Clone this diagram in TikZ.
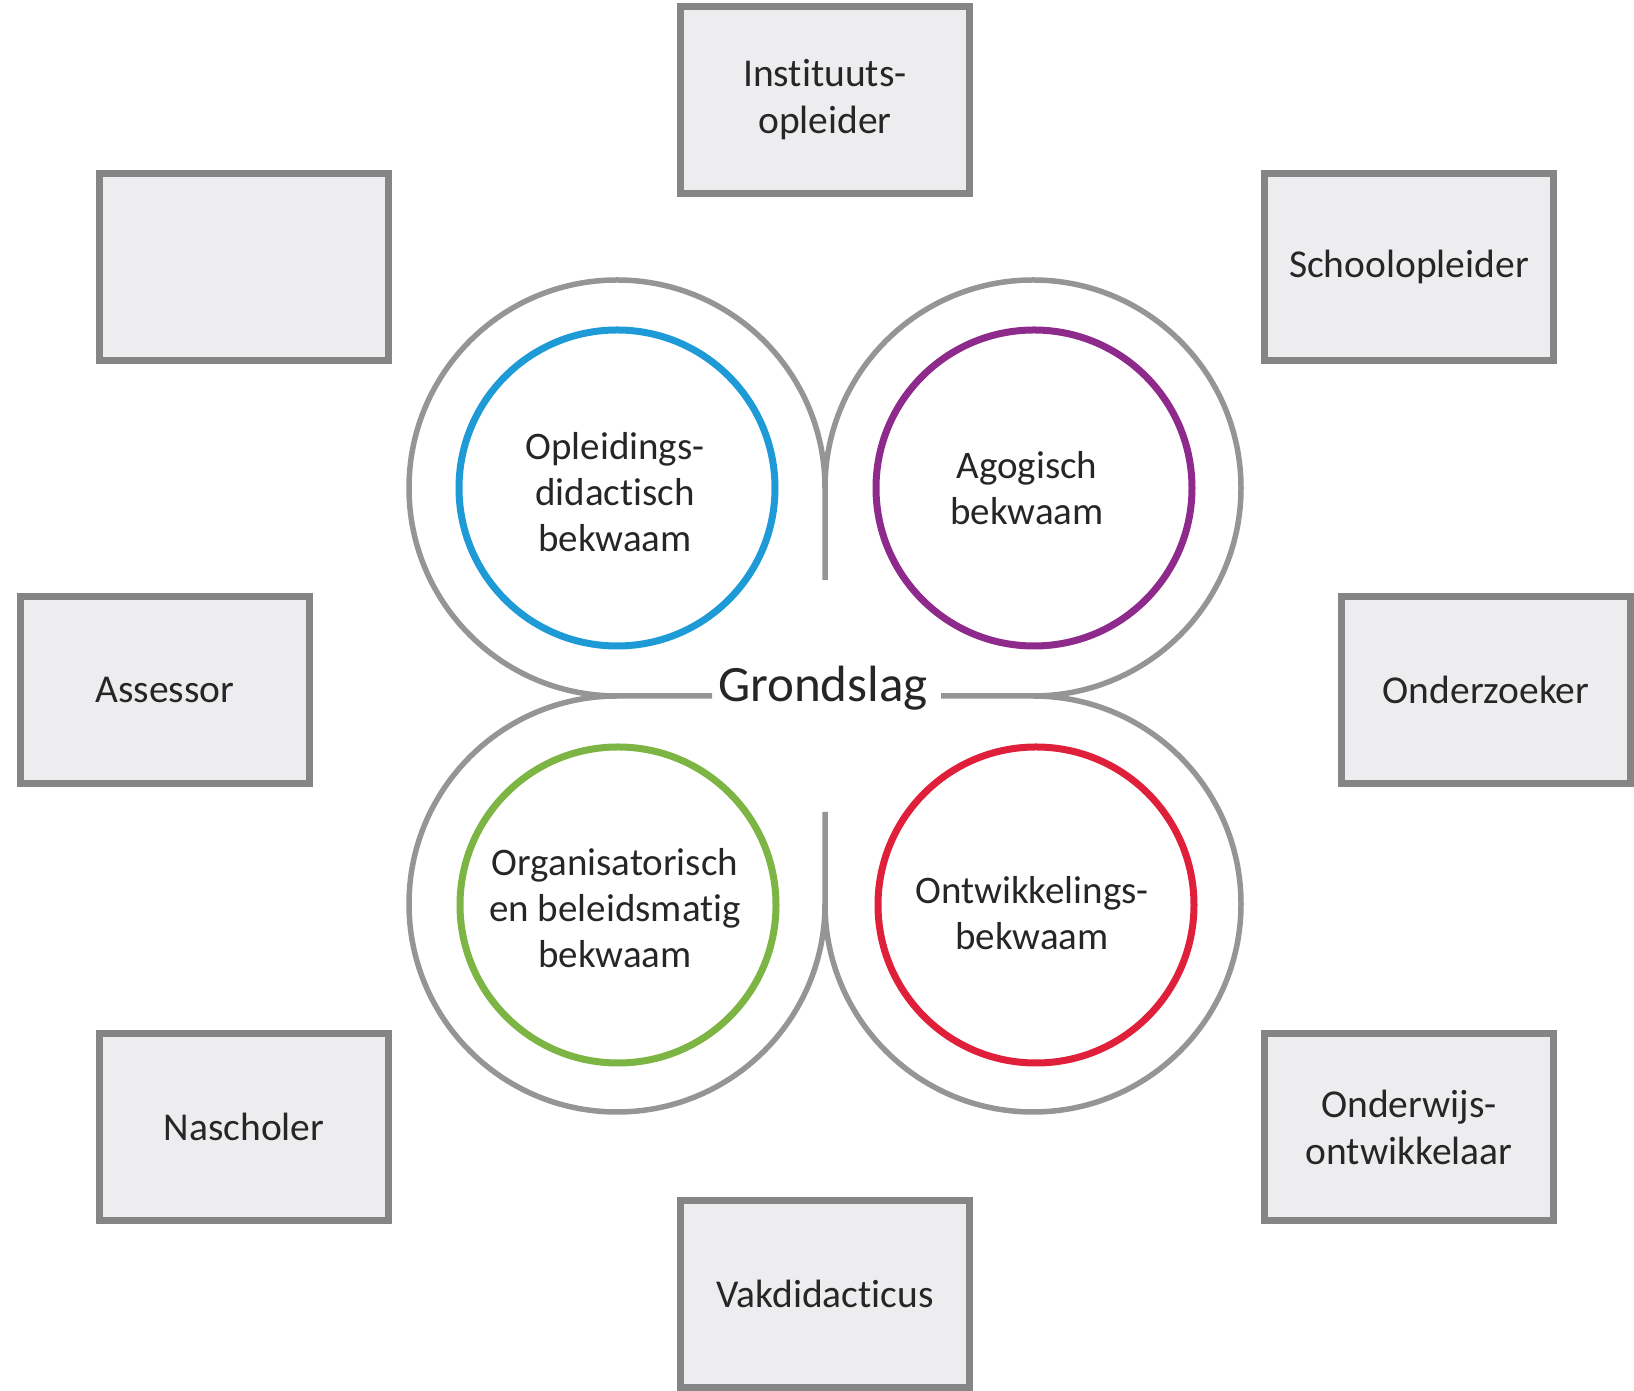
\documentclass[tikz,border=0pt]{standalone}
\usepackage{fontspec}
\setmainfont{Carlito}[Ligatures=NoCommon]
\definecolor{boxfill}{HTML}{EDEDEF}
\definecolor{boxline}{HTML}{858585}
\definecolor{ringgray}{HTML}{959595}
\definecolor{cblue}{HTML}{1E9BD7}
\definecolor{cpurple}{HTML}{8E2A8C}
\definecolor{cgreen}{HTML}{7DB544}
\definecolor{cred}{HTML}{E0203A}
\definecolor{txt}{HTML}{262626}
\begin{document}
\begin{tikzpicture}[x=1pt,y=1pt,
  rolebox/.style={draw=boxline, fill=boxfill, line width=7pt, minimum width=289pt, minimum height=187pt, inner sep=0pt, align=center, text=txt, font=\fontsize{39.5}{47}\selectfont},
  ring/.style={draw=ringgray, line width=5.5pt},
  comp/.style={line width=7pt},
  comptext/.style={align=center, text=txt, font=\fontsize{39}{46}\selectfont}]
\useasboundingbox (0,0) rectangle (1634,1391);
% role boxes
\node[rolebox] (inst) at (825,1291) {Instituuts-\\opleider};
\node[rolebox] (empty) at (244,1124) {};
\node[rolebox] (school) at (1409,1124) {Schoolopleider};
\node[rolebox] (assessor) at (165,701) {Assessor};
\node[rolebox] (onderzoeker) at (1486,701) {Onderzoeker};
\node[rolebox] (nascholer) at (244,264) {Nascholer};
\node[rolebox] (onderwijs) at (1409,264) {Onderwijs-\\ontwikkelaar};
\node[rolebox] (vak) at (825,97) {Vakdidacticus};
% outer rings
\draw[ring] (825,811) -- (825,903) arc[start angle=0, end angle=270, radius=208] -- (712,695);
\draw[ring] (825,903) arc[start angle=180, end angle=-90, radius=208] -- (941,695);
\draw[ring] (825,579) -- (825,487) arc[start angle=0, end angle=-270, radius=208];
\draw[ring] (1033,695) arc[start angle=90, end angle=-180, radius=208];
% competence circles
\draw[comp, cblue] (617,903) circle[radius=158];
\draw[comp, cpurple] (1034,903) circle[radius=158];
\draw[comp, cgreen] (618,486) circle[radius=158];
\draw[comp, cred] (1036,486) circle[radius=158];
\node[comptext] (opl) at (615,899) {Opleidings-\\didactisch\\bekwaam};
\node[comptext] (ago) at (1027,903) {Agogisch\\bekwaam};
\node[comptext] (org) at (615,483) {Organisatorisch\\en beleidsmatig\\bekwaam};
\node[comptext] (ont) at (1032,478) {Ontwikkelings-\\bekwaam};
\node[anchor=base, text=txt, font=\fontsize{51}{61}\selectfont, inner sep=0pt] (grond) at (823,689) {Grondslag};
\end{tikzpicture}
\end{document}
